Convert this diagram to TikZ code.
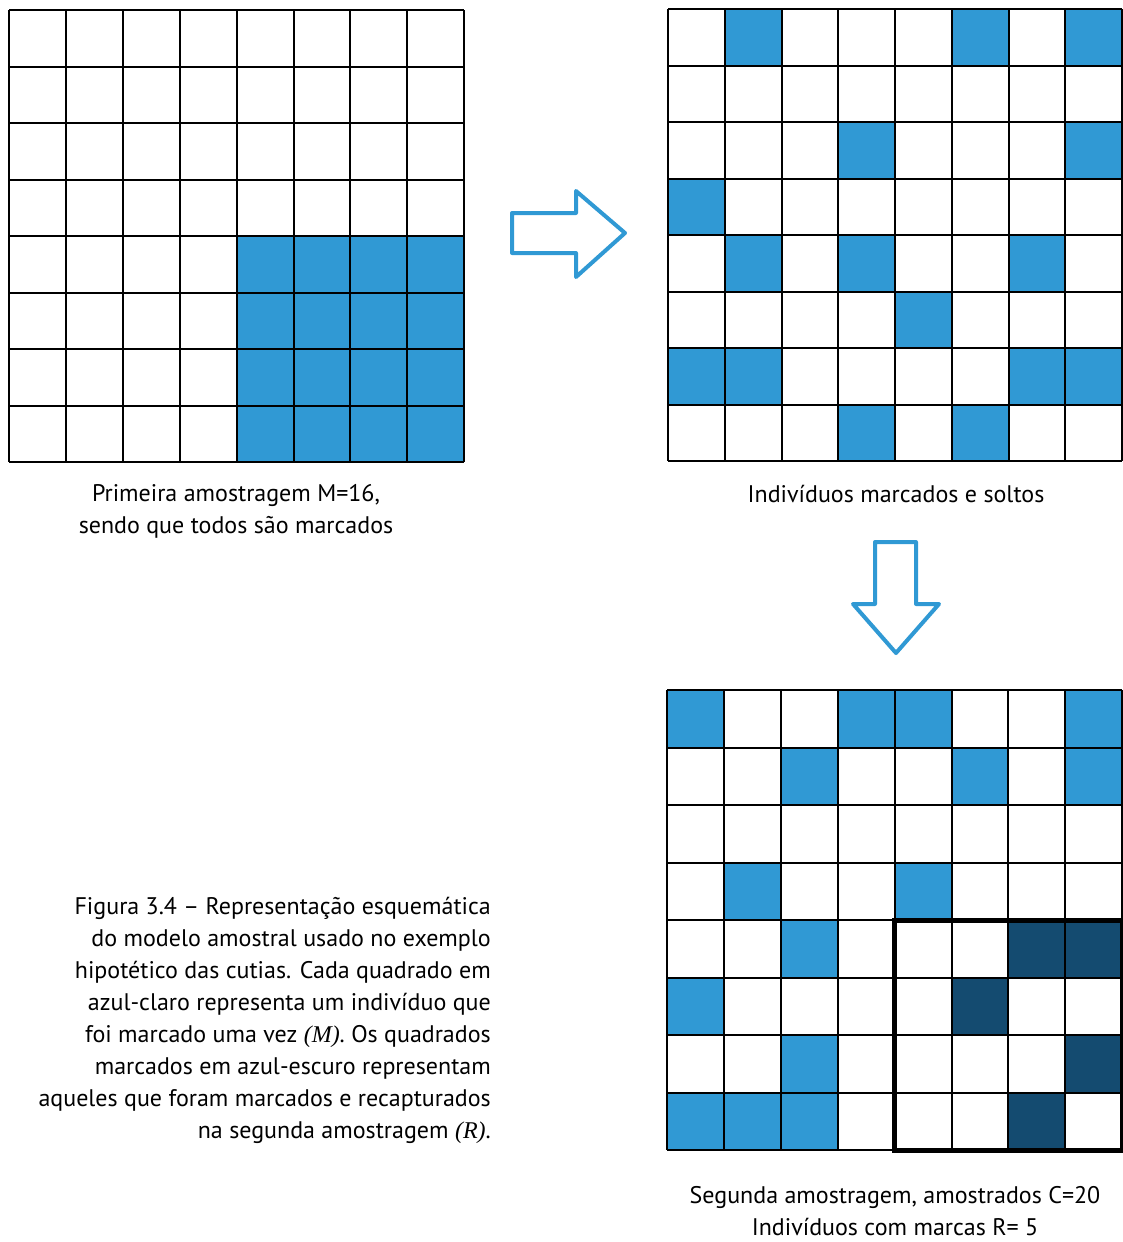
\documentclass[tikz,border=0pt]{standalone}
\usepackage{fontspec}
\setmainfont{PT Sans}
\newfontfamily\serifit{Liberation Serif}
\usetikzlibrary{positioning}
\definecolor{azulclaro}{RGB}{48,153,212}
\definecolor{azulescuro}{RGB}{20,75,112}
\tikzset{
  gridline/.style={line width=2pt},
  seta/.style={draw=azulclaro, line width=4pt, line join=round},
  legenda/.style={inner sep=0pt, align=center, font=\fontsize{24}{32}\selectfont}
}
\begin{document}
\begin{tikzpicture}[x=1pt,y=-1pt]
  \useasboundingbox (0,0) rectangle (1123,1242);
  % primeira amostragem
  \begin{scope}[shift={(9,10)},x=56.9pt,y=-56.5pt]
    \fill[azulclaro] (4,4) rectangle (8,8);
    \foreach \i in {0,...,8} {
      \draw[gridline] (\i,0) -- (\i,8);
      \draw[gridline] (0,\i) -- (8,\i);
    }
  \end{scope}
  % marcados e soltos
  \begin{scope}[shift={(668,9)},x=56.75pt,y=-56.5pt]
    \foreach \c/\r in {1/0,5/0,7/0,3/2,7/2,0/3,1/4,3/4,6/4,4/5,0/6,1/6,6/6,7/6,3/7,5/7}
      \fill[azulclaro] (\c,\r) rectangle ++(1,1);
    \foreach \i in {0,...,8} {
      \draw[gridline] (\i,0) -- (\i,8);
      \draw[gridline] (0,\i) -- (8,\i);
    }
  \end{scope}
  % segunda amostragem
  \begin{scope}[shift={(667,690)},x=56.9pt,y=-57.5pt]
    \foreach \c/\r in {0/0,3/0,4/0,7/0,2/1,5/1,7/1,1/3,4/3,2/4,0/5,2/6,0/7,1/7,2/7}
      \fill[azulclaro] (\c,\r) rectangle ++(1,1);
    \foreach \c/\r in {6/4,7/4,5/5,7/6,6/7}
      \fill[azulescuro] (\c,\r) rectangle ++(1,1);
    \foreach \i in {0,...,8} {
      \draw[gridline] (\i,0) -- (\i,8);
      \draw[gridline] (0,\i) -- (8,\i);
    }
    \draw[line width=5pt] (4,4) rectangle (8,8);
  \end{scope}
  % setas
  \draw[seta] (512,213) -- (576,213) -- (576,191) -- (625,233) -- (576,277) -- (576,253) -- (512,253) -- cycle;
  \draw[seta] (875,542) -- (916,542) -- (916,604) -- (939,604) -- (896,653) -- (853,604) -- (875,604) -- cycle;
  % textos
  \node[legenda] (primeira) at (236,511) {Primeira amostragem M=16,\\sendo que todos são marcados};
  \node[legenda] (soltos) at (896,494) {Indivíduos marcados e soltos};
  \node[legenda] (segunda) at (895,1211) {Segunda amostragem, amostrados C=20\\Indivíduos com marcas R= 5};
  \node[legenda, align=right, anchor=east] (figura) at (491,1020) {Figura 3.4 – Representação esquemática\\
    do modelo amostral usado no exemplo\\
    hipotético das cutias. Cada quadrado em\\
    azul-claro representa um indivíduo que\\
    foi marcado uma vez {\serifit\itshape (M)}. Os quadrados\\
    marcados em azul-escuro representam\\
    aqueles que foram marcados e recapturados\\
    na segunda amostragem {\serifit\itshape (R)}.};
\end{tikzpicture}
\end{document}
